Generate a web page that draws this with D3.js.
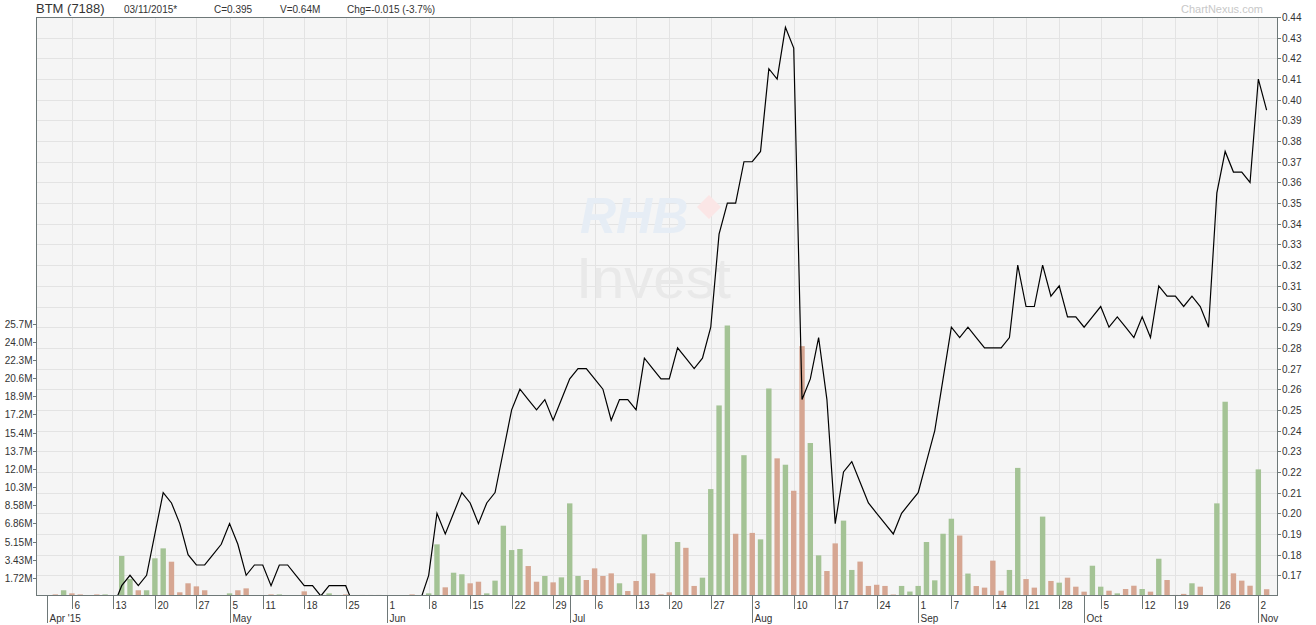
<!DOCTYPE html>
<html><head><meta charset="utf-8">
<script src="https://cdn.jsdelivr.net/npm/d3@7"></script>
<style>
body{margin:0;background:#fff;}
svg{display:block;font-family:"Liberation Sans",Arial,sans-serif;}
</style>
</head><body>
<svg id="chart" width="1316" height="625"></svg>
<script>
// ---------------- DATA ----------------
const closePrices = [
0.15,0.15,0.15,0.155,0.15,0.15,0.15,0.15,0.155,0.155,
0.165,0.17,0.165,0.17,0.19,0.21,0.205,0.195,0.18,0.175,
0.175,0.18,0.185,0.195,0.185,0.17,0.175,0.175,0.165,0.175,
0.175,0.17,0.165,0.165,0.16,0.165,0.165,0.165,0.155,0.155,
0.155,0.155,0.155,0.155,0.155,0.155,0.158,0.17,0.20,0.19,
0.20,0.21,0.205,0.195,0.205,0.21,0.23,0.25,0.26,0.255,
0.25,0.255,0.245,0.255,0.265,0.27,0.27,0.265,0.26,0.245,
0.255,0.255,0.25,0.275,0.27,0.265,0.265,0.28,0.275,0.27,
0.275,0.29,0.335,0.35,0.35,0.37,0.37,0.375,0.415,0.41,
0.435,0.425,0.255,0.265,0.285,0.255,0.195,0.22,0.225,0.215,
0.205,0.20,0.195,0.19,0.20,0.205,0.21,0.225,0.24,0.265,
0.29,0.285,0.29,0.285,0.28,0.28,0.28,0.285,0.32,0.30,
0.30,0.32,0.305,0.31,0.295,0.295,0.29,0.295,0.30,0.29,
0.295,0.29,0.285,0.295,0.285,0.31,0.305,0.305,0.30,0.305,
0.30,0.29,0.355,0.375,0.365,0.365,0.36,0.41,0.395];

const volumesM = [
0.09,0.09,0.15,0.54,0.25,0.15,0,0.15,0.15,0,
3.78,1.6,0.54,0.54,3.56,4.5,3.24,0.35,1.2,0.91,
0.54,0.09,0.09,0.25,0.54,0.72,0.09,0,0.15,0.15,
0,0,0.44,0,0.05,0.25,0,0.15,0,0.1,
0.1,0.1,0,0,0,0.15,0,0.25,4.88,0.82,
2.2,2.05,1.2,1.35,0.25,1.45,6.64,4.34,4.44,2.83,
1.35,1.89,1.29,1.76,8.75,1.89,1.51,2.61,1.89,2.14,
1.2,0.47,1.42,5.82,2.14,0.16,0.35,5.1,4.55,0.95,
1.73,10.1,18.0,25.55,5.88,13.3,5.96,5.35,19.6,13.0,
12.4,9.94,23.6,14.45,3.84,2.36,4.97,7.12,2.46,3.25,
0.95,1.06,0.95,0.14,0.95,0.42,0.95,5.1,1.48,5.88,
7.3,5.71,2.12,0.94,0.79,3.34,0.5,2.46,12.1,1.6,
0.79,7.5,1.42,1.26,1.73,0.88,0.41,2.86,0.88,0.5,
0.25,0.66,0.97,0.66,0.41,3.52,1.51,0.1,0.2,1.2,
0.88,0.05,8.75,18.35,2.14,1.45,0.97,11.96,0.64];

const marketHolidays = ["2015-05-01","2015-05-04","2015-07-17","2015-08-31","2015-09-16","2015-09-24","2015-10-14"];
const priceTickLabels = ["0.17","0.18","0.19","0.20","0.21","0.22","0.23","0.24","0.25","0.26","0.27","0.28","0.29","0.30","0.31","0.32","0.33","0.34","0.35","0.36","0.37","0.38","0.39","0.40","0.41","0.42","0.43","0.44"];
const volTickLabels = ["1.72M","3.43M","5.15M","6.86M","8.58M","10.3M","12.0M","13.7M","15.4M","17.2M","18.9M","20.6M","22.3M","24.0M","25.7M"];
const volTickStepM = 1.7153;
const monthLabels = ["Apr '15","May","Jun","Jul","Aug","Sep","Oct","Nov"];
const headerTexts = ["BTM (7188)","03/11/2015*","C=0.395","V=0.64M","Chg=-0.015 (-3.7%)"];

// ---------------- CALENDAR ----------------
const fmtKey = d3.timeFormat("%Y-%m-%d");
const tradingDays = [];
for (let d = new Date(2015,2,31); d <= new Date(2015,10,3); d.setDate(d.getDate()+1)) {
  const wd = d.getDay();
  if (wd!==0 && wd!==6 && !marketHolidays.includes(fmtKey(d))) tradingDays.push(new Date(d));
}

// ---------------- LAYOUT ----------------
const L = 36, R = 1278, T = 17, B = 596;
const svg = d3.select("#chart");
const x = d3.scaleLinear().domain([-0.33, 149.37]).range([L, R]);
const yP = d3.scaleLinear().domain([0.16, 0.44]).range([B, T]);
const yV = d3.scaleLinear().domain([0, volTickStepM*15]).range([B, B - 272.4]);

svg.append("rect").attr("x",L).attr("y",T).attr("width",R-L).attr("height",B-T).attr("fill","#f5f5f5");

svg.append("defs").append("clipPath").attr("id","clip")
  .append("rect").attr("x",L).attr("y",T).attr("width",R-L).attr("height",B-T);

// week / month ticks
const weekIdx = [], monthIdx = [];
const wk = d3.timeMonday;
for (let i = 1; i < tradingDays.length; i++) {
  if (+wk.floor(tradingDays[i]) !== +wk.floor(tradingDays[i-1])) weekIdx.push(i);
  if (tradingDays[i].getMonth() !== tradingDays[i-1].getMonth()) monthIdx.push(i);
}
const tx = i => Math.round(x(i)) + 0.5;

// grid
const grid = svg.append("g");
priceTickLabels.forEach(s => {
  const yy = Math.round(yP(+s)) + 0.5;
  grid.append("line").attr("x1",L).attr("x2",R).attr("y1",yy).attr("y2",yy).attr("stroke","#e3e3e3");
});
weekIdx.forEach(i => {
  grid.append("line").attr("x1",tx(i)).attr("x2",tx(i)).attr("y1",T).attr("y2",B).attr("stroke","#e3e3e3");
});

// watermark
const wm = svg.append("g");
wm.append("path").attr("d","M697,207 L709,195 L721,207 L709,219 Z").attr("fill","#fbe6e6");
wm.append("text").attr("x",580).attr("y",233).attr("font-size",50).attr("font-weight","bold")
  .attr("font-style","italic").attr("fill","#e6edf5").text("RHB");
wm.append("text").attr("x",576).attr("y",298).attr("font-size",58).attr("fill","#e9e9e9").text("Invest");

// volume bars
const plot = svg.append("g").attr("clip-path","url(#clip)");
const bw = 5.4;
plot.selectAll("rect.v").data(volumesM).join("rect").attr("class","v")
  .attr("x",(d,i)=>x(i)-bw/2).attr("width",bw)
  .attr("y",d=>yV(d)).attr("height",d=>B-yV(d))
  .attr("fill",(d,i)=> (i>0 && closePrices[i]>closePrices[i-1]) ? "#a4c395" : "#d6a692");

// price line
plot.append("path").datum(closePrices)
  .attr("d", d3.line().x((d,i)=>x(i)).y(d=>yP(d)))
  .attr("fill","none").attr("stroke","#000").attr("stroke-width",1.2);

// frame
const ac = "#6e7878";
svg.append("rect").attr("x",L+0.5).attr("y",T+0.5).attr("width",R-L-1).attr("height",B-T-1)
  .attr("fill","none").attr("stroke",ac);

// right price axis
const ra = svg.append("g").attr("font-size",10).attr("fill","#333");
priceTickLabels.forEach(s => {
  const yy = Math.round(yP(+s)) + 0.5;
  ra.append("line").attr("x1",R).attr("x2",R+3).attr("y1",yy).attr("y2",yy).attr("stroke",ac);
  ra.append("text").attr("x",R+4).attr("y",yy).attr("dy","0.35em").text(s);
});

// left volume axis
const la = svg.append("g").attr("font-size",10).attr("fill","#333");
volTickLabels.forEach((s,k) => {
  const yy = Math.round(yV(volTickStepM*(k+1))) + 0.5;
  la.append("line").attr("x1",L-3).attr("x2",L).attr("y1",yy).attr("y2",yy).attr("stroke",ac);
  la.append("text").attr("x",L-3.5).attr("y",yy).attr("dy","0.35em").attr("text-anchor","end").text(s);
});

// bottom axis
const ba = svg.append("g").attr("font-size",10).attr("fill","#333");
weekIdx.forEach(i => {
  ba.append("line").attr("x1",tx(i)).attr("x2",tx(i)).attr("y1",B).attr("y2",B+13).attr("stroke",ac);
  ba.append("text").attr("x",tx(i)+2).attr("y",B+13).text(tradingDays[i].getDate());
});
monthIdx.forEach((i,k) => {
  ba.append("line").attr("x1",tx(i)).attr("x2",tx(i)).attr("y1",B).attr("y2",B+27).attr("stroke",ac);
  ba.append("text").attr("x",tx(i)+2).attr("y",B+26).text(monthLabels[k]);
});

// header
const hx = [36,124,214,280,347];
headerTexts.forEach((s,k) => {
  svg.append("text").attr("x",hx[k]).attr("y",13).attr("font-size",k===0?13:10)
    .attr("fill","#333").text(s);
});
svg.append("text").attr("x",1181).attr("y",13).attr("font-size",11).attr("fill","#c8c8c8").text("ChartNexus.com");
</script>
</body></html>
